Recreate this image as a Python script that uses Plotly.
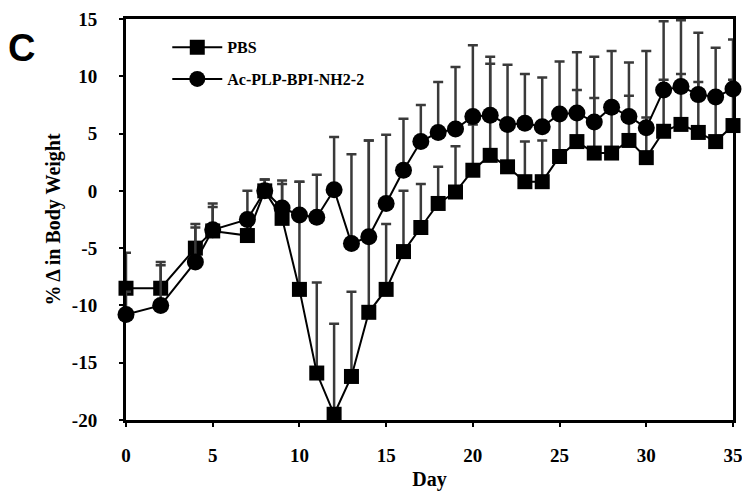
import plotly.graph_objects as go

days = [0, 2, 4, 5, 7, 8, 9, 10, 11, 12, 13, 14, 15, 16, 17, 18, 19, 20, 21, 22,
        23, 24, 25, 26, 27, 28, 29, 30, 31, 32, 33, 34, 35]

pbs = [-8.5, -8.5, -5.0, -3.5, -3.9, 0.0, -2.4, -8.6, -15.9, -19.5, -16.2, -10.6, -8.6,
       -5.3, -3.2, -1.1, -0.1, 1.8, 3.1, 2.1, 0.8, 0.8, 3.0, 4.3, 3.3, 3.3, 4.4, 2.9,
       5.2, 5.8, 5.1, 4.3, 5.7]
pbs_err = [3.1, 2.3, 2.1, 2.4, 1.5, 1.0, 3.0, 9.4, 7.9, 7.9, 7.4, 15.0, 5.7,
           5.3, 3.8, 3.2, 4.0, 4.0, 8.0, 4.0, 3.5, 3.6, 4.0, 4.5, 4.8, 4.5, 3.9, 3.5,
           4.5, 4.4, 4.4, 4.2, 4.0]

bpi = [-10.8, -10.0, -6.2, -3.4, -2.5, 0.0, -1.5, -2.1, -2.3, 0.1, -4.6, -4.0, -1.1,
       1.8, 4.3, 5.1, 5.4, 6.5, 6.6, 5.8, 5.9, 5.6, 6.7, 6.8, 6.0, 7.3, 6.5, 5.5,
       8.8, 9.1, 8.4, 8.2, 8.9]
bpi_err = [2.0, 3.5, 3.0, 2.0, 2.5, 1.0, 2.4, 2.9, 3.7, 4.6, 7.8, 8.4, 6.0,
           4.5, 3.2, 4.4, 5.4, 6.2, 5.1, 5.2, 4.3, 4.3, 4.6, 5.3, 5.7, 4.9, 4.7, 6.7,
           6.0, 5.8, 5.4, 4.3, 4.3]

x_ticks = [0, 5, 10, 15, 20, 25, 30, 35]
y_ticks = [-20, -15, -10, -5, 0, 5, 10, 15]
y_tick_labels = ["-20", "-15", "-10", "-5", "0", "5", "10", "15"]

serif = "Liberation Serif"

fig = go.Figure()

def add(name, y, err, symbol, size):
    fig.add_trace(go.Scatter(
        x=days, y=y, name=name, mode="lines+markers", legendgroup=name,
        line=dict(color="black", width=2),
        marker=dict(symbol=symbol, size=size, color="black"),
        error_y=dict(type="data", symmetric=False, array=err,
                     arrayminus=[0] * len(err), color="#3a3a3a",
                     thickness=2.5, width=5),
        cliponaxis=False,
    ))

add("PBS", pbs, pbs_err, "square", 15)
add("Ac-PLP-BPI-NH2-2", bpi, bpi_err, "circle", 17)

axis_common = dict(
    showline=True, linecolor="black", linewidth=3, mirror=True,
    ticks="outside", ticklen=4, tickwidth=1.5, tickcolor="black",
    showgrid=False, zeroline=False, automargin=False,
    tickfont=dict(family=serif, size=19, color="black", weight="bold"),
)

# page body has an 8px margin; compensate so the plot area lands at
# x 126..733, y 19..420 in the window
W, H = 742, 487
ML, MR, MT, MB = 118, 17, 11, 75
PW, PH = W - ML - MR, H - MT - MB

fig.update_layout(
    width=W, height=H,
    margin=dict(l=ML, r=MR, t=MT, b=MB, autoexpand=False),
    paper_bgcolor="white", plot_bgcolor="white",
    xaxis=dict(range=[0, 35], tickvals=x_ticks, ticklabelstandoff=12,
               title=dict(text="Day", standoff=8,
                          font=dict(family=serif, size=20, color="black", weight="bold")),
               **axis_common),
    yaxis=dict(range=[-20, 15], tickvals=y_ticks, ticktext=y_tick_labels,
               ticklabelstandoff=18,
               title=dict(text="% Δ in Body Weight", standoff=6,
                          font=dict(family=serif, size=20, color="black", weight="bold")),
               **axis_common),
    legend=dict(x=0.068, y=0.972, xanchor="left", yanchor="top",
                bgcolor="rgba(0,0,0,0)", itemwidth=50,
                font=dict(family=serif, size=16, color="black", weight="bold"),
                tracegroupgap=8),
    annotations=[dict(text="C", xref="paper", yref="paper",
                      x=(14 - ML) / PW, y=(PH + MT - 40) / PH,
                      xanchor="center", yanchor="middle", showarrow=False,
                      font=dict(family="Liberation Sans", size=38,
                                color="black", weight="bold"))],
)

fig.write_html("out.html")
